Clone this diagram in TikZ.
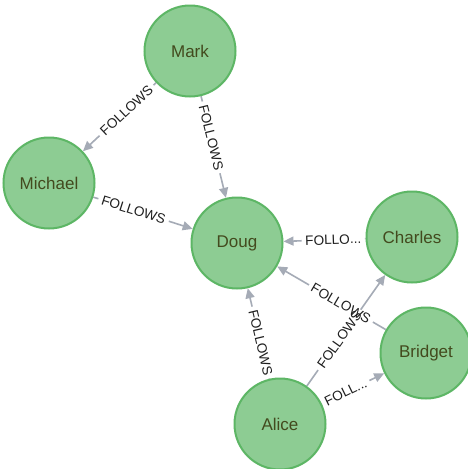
\documentclass[tikz,border=0pt]{standalone}
\usepackage{fontspec}
\setmainfont{Liberation Sans}
\usetikzlibrary{arrows.meta}
\definecolor{nodefill}{HTML}{8DCC93}
\definecolor{nodeline}{HTML}{5DB665}
\definecolor{nodetext}{HTML}{434A1E}
\definecolor{edgegray}{HTML}{A5ABB6}
\definecolor{labeltext}{HTML}{1E1E1E}
\pgfdeclarelayer{canvas}
\pgfdeclarelayer{edges}
\pgfsetlayers{canvas,edges,main}

\begin{document}
\begin{tikzpicture}[x=1pt,y=-1pt,
  person/.style={circle, minimum size=91pt, inner sep=0pt, fill=nodefill,
    draw=nodeline, line width=2pt, text=nodetext,
    font=\fontsize{17}{19}\selectfont},
  rel/.style={sloped, font=\fontsize{13.6}{15}\selectfont, text=labeltext,
    inner xsep=3.5pt, inner ysep=1pt},
  link/.style={draw=edgegray, line width=1.6pt},
  tip/.style={link, -{Triangle[length=10pt,width=9pt]}}]

\begin{pgfonlayer}{canvas}
  \fill[white] (0,0) rectangle (468,469);
\end{pgfonlayer}
\useasboundingbox (0,0) rectangle (468,469);

% people
\node[person] (Mark)    at (190,51)  {Mark};
\node[person] (Michael) at (49,183)  {Michael};
\node[person] (Doug)    at (237,243) {Doug};
\node[person] (Charles) at (412,237) {Charles};
\node[person] (Bridget) at (426,353) {Bridget};
\node[person] (Alice)   at (280,424) {Alice};

% relationship labels, placed a little toward the source node
\path (Mark.center)    -- (Michael.center) node[rel, pos=0.45] (r1) {FOLLOWS};
\path (Mark.center)    -- (Doug.center)    node[rel, pos=0.45] (r2) {FOLLOWS};
\path (Michael.center) -- (Doug.center)    node[rel, pos=0.45] (r3) {FOLLOWS};
\path (Charles.center) -- (Doug.center)    node[rel, pos=0.45] (r4) {FOLLO...};
\path (Bridget.center) -- (Doug.center)    node[rel, pos=0.45] (r5) {FOLLOWS};
\path (Alice.center)   -- (Doug.center)    node[rel, pos=0.45] (r6) {FOLLOWS};
\path (Alice.center)   -- (Charles.center) node[rel, pos=0.45] (r7) {FOLLOWS};
\path (Alice.center)   -- (Bridget.center) node[rel, pos=0.45] (r8) {FOLL...};

% relationship lines, broken around their labels
\begin{pgfonlayer}{edges}
  \draw[link] (Mark) -- (r1.east);    \draw[tip] (r1.west) -- (Michael);
  \draw[link] (Mark) -- (r2.west);    \draw[tip] (r2.east) -- (Doug);
  \draw[link] (Michael) -- (r3.west); \draw[tip] (r3.east) -- (Doug);
  \draw[link] (Charles) -- (r4.east); \draw[tip] (r4.west) -- (Doug);
  \draw[link] (Bridget) -- (r5.east); \draw[tip] (r5.west) -- (Doug);
  \draw[link] (Alice) -- (r6.east);   \draw[tip] (r6.west) -- (Doug);
  \draw[link] (Alice) -- (r7.west);   \draw[tip] (r7.east) -- (Charles);
  \draw[link] (Alice) -- (r8.west);   \draw[tip] (r8.east) -- (Bridget);
\end{pgfonlayer}
\end{tikzpicture}
\end{document}
